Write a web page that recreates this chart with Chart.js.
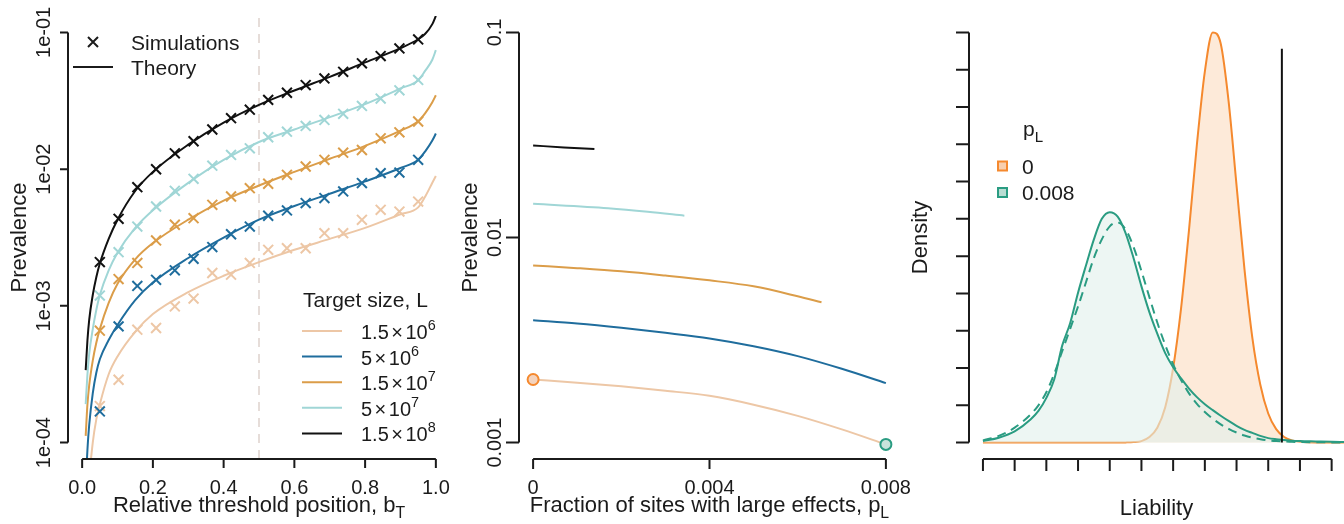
<!DOCTYPE html>
<html>
<head>
<meta charset="utf-8">
<script src="https://cdn.jsdelivr.net/npm/chart.js@4.4.1/dist/chart.umd.min.js"></script>
<style>
  html, body { margin: 0; padding: 0; background: #fff; }
  #wrap { position: relative; width: 1344px; height: 524px; }
  #wrap canvas { position: absolute; left: 0; top: 0; width: 1344px; height: 524px; }
</style>
</head>
<body>
<div id="wrap">
  <canvas id="pA" width="1344" height="524"></canvas>
  <canvas id="pB" width="1344" height="524"></canvas>
  <canvas id="pC" width="1344" height="524"></canvas>
</div>
<script>
// ── Panel A: prevalence vs relative threshold position ──────────────────────
const SIM_X = [0.05, 0.103, 0.156, 0.209, 0.262, 0.315, 0.368, 0.421, 0.474, 0.526, 0.579, 0.632, 0.685, 0.738, 0.791, 0.844, 0.897, 0.95];
const SIM_15e6 = [0.000185, 0.000288, 0.00067, 0.000689, 0.000991, 0.00113, 0.00174, 0.00169, 0.00206, 0.00257, 0.00264, 0.00264, 0.0034, 0.0034, 0.00426, 0.00504, 0.00489, 0.00579];
const SIM_5e6 = [0.000169, 0.000708, 0.0014, 0.00155, 0.00182, 0.00221, 0.00269, 0.00334, 0.0038, 0.00456, 0.00499, 0.00565, 0.00614, 0.00687, 0.00791, 0.00935, 0.00944, 0.0117];
const SIM_15e7 = [0.000658, 0.00157, 0.00206, 0.00301, 0.00392, 0.00438, 0.00548, 0.00631, 0.00726, 0.00782, 0.00908, 0.01045, 0.0117, 0.0132, 0.0138, 0.0168, 0.0186, 0.0223];
const SIM_5e7 = [0.00119, 0.00247, 0.0038, 0.00533, 0.00694, 0.00849, 0.0106, 0.0127, 0.0142, 0.0171, 0.0188, 0.0207, 0.0229, 0.0254, 0.029, 0.0328, 0.0377, 0.0449];
const SIM_15e8 = [0.00209, 0.00433, 0.00738, 0.00998, 0.01306, 0.016, 0.0195, 0.0236, 0.0272, 0.0321, 0.0362, 0.0412, 0.0461, 0.0515, 0.0594, 0.0671, 0.0764, 0.0889];

const THEORY_X = [0.01, 0.015, 0.02, 0.03, 0.04, 0.05, 0.075, 0.1, 0.15, 0.2, 0.3, 0.4, 0.5, 0.6, 0.7, 0.8, 0.9, 0.95, 0.97, 0.99, 1.0];
const TH_15e6 = [1.26e-5, 2.82e-5, 5.25e-5, 1.0e-4, 1.48e-4, 1.91e-4, 3.16e-4, 4.27e-4, 6.46e-4, 8.71e-4, 1.26e-3, 1.66e-3, 2.09e-3, 2.57e-3, 3.09e-3, 3.72e-3, 4.68e-3, 5.25e-3, 6.31e-3, 7.94e-3, 8.91e-3];
const TH_5e6 = [5.01e-5, 8.91e-5, 1.35e-4, 2.29e-4, 3.24e-4, 4.07e-4, 5.62e-4, 7.24e-4, 1.10e-3, 1.48e-3, 2.24e-3, 3.16e-3, 4.27e-3, 5.37e-3, 6.61e-3, 8.13e-3, 1.02e-2, 1.17e-2, 1.35e-2, 1.62e-2, 1.82e-2];
const TH_15e7 = [1.12e-4, 1.91e-4, 2.63e-4, 3.98e-4, 5.37e-4, 6.76e-4, 1.05e-3, 1.45e-3, 2.19e-3, 2.88e-3, 4.27e-3, 5.89e-3, 7.59e-3, 9.55e-3, 1.19e-2, 1.48e-2, 1.91e-2, 2.24e-2, 2.57e-2, 3.09e-2, 3.47e-2];
const TH_5e7 = [1.91e-4, 3.16e-4, 4.47e-4, 6.76e-4, 9.33e-4, 1.20e-3, 1.82e-3, 2.45e-3, 3.72e-3, 5.01e-3, 7.94e-3, 1.17e-2, 1.58e-2, 1.95e-2, 2.40e-2, 2.99e-2, 3.89e-2, 4.47e-2, 5.25e-2, 6.31e-2, 7.41e-2];
const TH_15e8 = [3.39e-4, 5.62e-4, 7.94e-4, 1.20e-3, 1.62e-3, 2.04e-3, 3.09e-3, 4.27e-3, 6.92e-3, 9.55e-3, 1.51e-2, 2.19e-2, 2.95e-2, 3.76e-2, 4.73e-2, 6.03e-2, 7.67e-2, 8.91e-2, 9.77e-2, 0.115, 0.132];

const THRESHOLD_B = 0.5;
const A_X_TICKS = [0, 0.2, 0.4, 0.6, 0.8, 1.0];
const A_X_LABELS = ['0.0', '0.2', '0.4', '0.6', '0.8', '1.0'];
const A_Y_TICKS = [1e-4, 1e-3, 1e-2, 1e-1];
const A_Y_LABELS = ['1e-04', '1e-03', '1e-02', '1e-01'];
const TARGET_MANT = ['1.5', '5', '1.5', '5', '1.5'];
const TARGET_EXP = ['6', '6', '7', '7', '8'];

// ── Panel B: prevalence vs fraction of large-effect sites ───────────────────
const PB_X_FULL = [0, 0.001, 0.002, 0.003, 0.004, 0.005, 0.006, 0.007, 0.008];
const PB_15e6 = [0.00203, 0.00196, 0.00188, 0.00179, 0.00169, 0.00153, 0.00135, 0.00116, 0.00098];
const PB_5e6 = [0.00395, 0.00381, 0.00363, 0.00343, 0.00322, 0.00295, 0.00264, 0.00229, 0.00195];
const PB_X_15e7 = [0, 0.001, 0.002, 0.003, 0.004, 0.005, 0.006, 0.00654];
const PB_15e7 = [0.00731, 0.00709, 0.00684, 0.00652, 0.00618, 0.00578, 0.00517, 0.00483];
const PB_X_5e7 = [0, 0.0017, 0.0026, 0.00343];
const PB_5e7 = [0.0146, 0.0139, 0.01336, 0.01277];
const PB_X_15e8 = [0, 0.0007, 0.00139];
const PB_15e8 = [0.0281, 0.0275, 0.027];
const DOT_X = [0, 0.008];
const DOT_Y = [0.00203, 0.00098];
const B_X_TICKS = [0, 0.004, 0.008];
const B_X_LABELS = ['0', '0.004', '0.008'];
const B_Y_TICKS = [0.001, 0.01, 0.1];
const B_Y_LABELS = ['0.001', '0.01', '0.1'];

// ── Panel C: liability densities (arbitrary units) ──────────────────────────
const LIAB_X = [0, 0.5, 1, 1.5, 1.75, 2, 2.25, 2.5, 2.75, 3, 3.25, 3.5, 3.75, 4, 4.25, 4.5, 4.75, 5, 5.25, 5.5, 5.75, 6, 6.25, 6.5, 6.75, 7, 7.25, 7.5, 7.75, 8, 8.25, 8.5, 8.75, 9, 9.25, 9.5, 9.75, 10, 10.5, 11, 11.4];
const DENS_P0 = [0, 0, 0, 0, 0, 0, 0, 0, 0, 0, 0, 0, 0, 0, 0, 0.005, 0.015, 0.04, 0.15, 0.4, 0.95, 2.0, 3.6, 5.7, 8.0, 9.95, 11.0, 10.7, 9.15, 6.9, 4.65, 2.8, 1.55, 0.78, 0.36, 0.15, 0.06, 0.02, 0, 0, 0];
const DENS_P008 = [0.04, 0.13, 0.3, 0.62, 0.85, 1.2, 1.7, 2.6, 3.2, 4.02, 4.75, 5.45, 6.0, 6.18, 6.06, 5.62, 4.95, 4.19, 3.5, 2.92, 2.4, 2.02, 1.72, 1.45, 1.22, 1.03, 0.87, 0.72, 0.58, 0.45, 0.34, 0.26, 0.18, 0.12, 0.09, 0.07, 0.05, 0.04, 0.03, 0.02, 0.015];
const DENS_P008_SIM = [0.06, 0.18, 0.4, 0.75, 1.0, 1.35, 1.85, 2.45, 3.05, 3.65, 4.3, 4.95, 5.45, 5.8, 5.9, 5.72, 5.25, 4.6, 3.9, 3.22, 2.62, 2.1, 1.68, 1.32, 1.04, 0.82, 0.64, 0.49, 0.37, 0.27, 0.19, 0.13, 0.09, 0.06, 0.04, 0.03, 0.02, 0.015, 0.01, 0.005, 0.005];
const LIAB_THRESHOLD = 9.43;
const THRESHOLD_TOP = 10.56;
const C_TICKS = [0, 1, 2, 3, 4, 5, 6, 7, 8, 9, 10, 11];

// ── Styling ─────────────────────────────────────────────────────────────────
const FONT = '"Liberation Sans", Arial, Helvetica, sans-serif';
const INK = '#1b1b1b';
const COL_15e6 = '#EDC7A6';
const COL_5e6 = '#1F6D9D';
const COL_15e7 = '#DB9D49';
const COL_5e7 = '#A0D6D6';
const COL_15e8 = '#111111';
const COL_ORANGE = '#F5892E';
const COL_TEAL = '#2A9C82';

const pts = (xs, ys) => xs.map((x, i) => ({ x, y: ys[i] }));

// rich text: segments [text, 'sub'|'sup'|null]; a number is a gap in px
function richText(ctx, segs, x, y, size, align) {
  const parts = segs.map(([t, kind]) => {
    if (typeof t === 'number') return { gap: true, w: t };
    const s = kind ? size * 0.72 : size;
    ctx.font = `${s}px ${FONT}`;
    const dy = kind === 'sub' ? size * 0.28 : kind === 'sup' ? -size * 0.45 : 0;
    return { t, s, dy, w: ctx.measureText(t).width };
  });
  const total = parts.reduce((a, p) => a + p.w, 0);
  let cx = align === 'center' ? x - total / 2 : align === 'right' ? x - total : x;
  ctx.textAlign = 'left';
  ctx.textBaseline = 'alphabetic';
  for (const p of parts) {
    if (!p.gap) {
      ctx.font = `${p.s}px ${FONT}`;
      ctx.fillText(p.t, cx, y + p.dy);
    }
    cx += p.w;
  }
}

// R-style detached axes, drawn from the chart's own scales
function drawAxes(chart, a) {
  const { ctx, chartArea: ca, scales: { x, y } } = chart;
  ctx.save();
  ctx.strokeStyle = INK;
  ctx.fillStyle = INK;
  ctx.lineWidth = 2;
  ctx.beginPath();
  const yp = a.yTicks.map(v => y.getPixelForValue(v));
  ctx.moveTo(ca.left, yp[0]);
  ctx.lineTo(ca.left, yp[yp.length - 1]);
  yp.forEach(p => { ctx.moveTo(ca.left - a.yTickLen, p); ctx.lineTo(ca.left, p); });
  const xp = a.xTicks.map(v => x.getPixelForValue(v));
  ctx.moveTo(xp[0], ca.bottom);
  ctx.lineTo(xp[xp.length - 1], ca.bottom);
  xp.forEach(p => { ctx.moveTo(p, ca.bottom); ctx.lineTo(p, ca.bottom + a.xTickLen); });
  ctx.stroke();

  ctx.font = `20px ${FONT}`;
  ctx.textAlign = 'center';
  ctx.textBaseline = 'alphabetic';
  if (a.xLabels) a.xLabels.forEach((t, i) => ctx.fillText(t, xp[i], 494));
  if (a.yLabels) a.yLabels.forEach((t, i) => {
    ctx.save();
    ctx.translate(ca.left - 18, yp[i]);
    ctx.rotate(-Math.PI / 2);
    ctx.fillText(t, 0, 0);
    ctx.restore();
  });
  richText(ctx, a.xTitle, (ca.left + ca.right) / 2, a.xTitleY, 22, 'center');
  ctx.save();
  ctx.translate(ca.left - 42, (ca.top + ca.bottom) / 2);
  ctx.rotate(-Math.PI / 2);
  richText(ctx, a.yTitle, 0, 0, 22, 'center');
  ctx.restore();
  ctx.restore();
}

const baseOptions = (xMin, xMax, yType, yMin, yMax, pad) => ({
  responsive: false,
  animation: false,
  events: [],
  layout: { padding: pad },
  plugins: { legend: { display: false }, tooltip: { enabled: false } },
  scales: {
    x: { type: 'linear', min: xMin, max: xMax, bounds: 'data', display: false },
    y: { type: yType, min: yMin, max: yMax, bounds: 'data', display: false },
  },
});

// ── Chart A ─────────────────────────────────────────────────────────────────
const A_YMIN = Math.pow(10, -4.12), A_YMAX = Math.pow(10, -0.88);
const theoryDs = (ys, color, order) => ({
  type: 'line', data: pts(THEORY_X, ys), borderColor: color, borderWidth: 2,
  pointRadius: 0, cubicInterpolationMode: 'monotone', fill: false, order,
});
const simDs = (ys, color, order) => ({
  type: 'line', data: pts(SIM_X, ys), showLine: false, borderColor: color,
  pointStyle: 'crossRot', pointRadius: 7, pointBorderWidth: 2,
  pointBorderColor: color, order,
});

new Chart(document.getElementById('pA'), {
  type: 'line',
  data: {
    datasets: [
      { data: [{ x: THRESHOLD_B, y: A_YMIN }, { x: THRESHOLD_B, y: A_YMAX }], borderColor: '#E6DDD9',
        borderWidth: 2, borderDash: [9, 7], pointRadius: 0, order: 20 },
      theoryDs(TH_15e6, COL_15e6, 11), simDs(SIM_15e6, COL_15e6, 10),
      theoryDs(TH_5e6, COL_5e6, 9), simDs(SIM_5e6, COL_5e6, 8),
      theoryDs(TH_15e7, COL_15e7, 7), simDs(SIM_15e7, COL_15e7, 6),
      theoryDs(TH_5e7, COL_5e7, 5), simDs(SIM_5e7, COL_5e7, 4),
      theoryDs(TH_15e8, COL_15e8, 3), simDs(SIM_15e8, COL_15e8, 2),
    ],
  },
  options: baseOptions(-0.04, 1.04, 'logarithmic', A_YMIN, A_YMAX, { left: 68, right: 894, top: 16, bottom: 65 }),
  plugins: [{
    id: 'axesA',
    afterDraw(chart) {
      drawAxes(chart, {
        xTicks: A_X_TICKS, xLabels: A_X_LABELS, yTicks: A_Y_TICKS, yLabels: A_Y_LABELS,
        xTickLen: 9, yTickLen: 8, xTitleY: 512,
        xTitle: [['Relative threshold position, b', null], ['T', 'sub']],
        yTitle: [['Prevalence', null]],
      });
      const ctx = chart.ctx;
      ctx.save();
      ctx.fillStyle = INK; ctx.strokeStyle = INK; ctx.lineWidth = 2;
      // top-left key
      ctx.beginPath();
      ctx.moveTo(88, 37); ctx.lineTo(98, 47); ctx.moveTo(98, 37); ctx.lineTo(88, 47);
      ctx.moveTo(73, 67); ctx.lineTo(113, 67);
      ctx.stroke();
      richText(ctx, [['Simulations', null]], 131, 50, 21, 'left');
      richText(ctx, [['Theory', null]], 131, 75, 21, 'left');
      // target-size key
      richText(ctx, [['Target size, L', null]], 303, 307, 21, 'left');
      const cols = [COL_15e6, COL_5e6, COL_15e7, COL_5e7, COL_15e8];
      cols.forEach((c, i) => {
        const yy = 331 + i * 25.6;
        ctx.strokeStyle = c; ctx.lineWidth = 2;
        ctx.beginPath(); ctx.moveTo(302, yy); ctx.lineTo(342, yy); ctx.stroke();
        ctx.fillStyle = INK;
        richText(ctx, [[TARGET_MANT[i], null], [2.5], ['\u00d7', null], [2.5], ['10', null], [TARGET_EXP[i], 'sup']],
          361, yy + 8, 20, 'left');
      });
      ctx.restore();
    },
  }],
});

// ── Chart B ─────────────────────────────────────────────────────────────────
const B_YMIN = Math.pow(10, -3.08), B_YMAX = Math.pow(10, -0.92);
const lineB = (xs, ys, color) => ({
  data: pts(xs, ys), borderColor: color, borderWidth: 2, pointRadius: 0,
  cubicInterpolationMode: 'monotone', fill: false,
});
new Chart(document.getElementById('pB'), {
  type: 'line',
  data: {
    datasets: [
      { data: [{ x: DOT_X[0], y: DOT_Y[0] }], showLine: false, pointRadius: 5.5, pointBorderWidth: 2,
        pointBorderColor: COL_ORANGE, pointBackgroundColor: '#F4D3BD', order: 1 },
      { data: [{ x: DOT_X[1], y: DOT_Y[1] }], showLine: false, pointRadius: 5.5, pointBorderWidth: 2,
        pointBorderColor: COL_TEAL, pointBackgroundColor: '#C9E3DB', order: 1 },
      { ...lineB(PB_X_FULL, PB_15e6, COL_15e6), order: 6 },
      { ...lineB(PB_X_FULL, PB_5e6, COL_5e6), order: 5 },
      { ...lineB(PB_X_15e7, PB_15e7, COL_15e7), order: 4 },
      { ...lineB(PB_X_5e7, PB_5e7, COL_5e7), order: 3 },
      { ...lineB(PB_X_15e8, PB_15e8, COL_15e8), order: 2 },
    ],
  },
  options: baseOptions(-0.00032, 0.00832, 'logarithmic', B_YMIN, B_YMAX, { left: 519, right: 444, top: 16, bottom: 65 }),
  plugins: [{
    id: 'axesB',
    afterDraw(chart) {
      drawAxes(chart, {
        xTicks: B_X_TICKS, xLabels: B_X_LABELS, yTicks: B_Y_TICKS, yLabels: B_Y_LABELS,
        xTickLen: 10, yTickLen: 13, xTitleY: 512,
        xTitle: [['Fraction of sites with large effects, p', null], ['L', 'sub']],
        yTitle: [['Prevalence', null]],
      });
    },
  }],
});

// ── Chart C ─────────────────────────────────────────────────────────────────
new Chart(document.getElementById('pC'), {
  type: 'line',
  data: {
    datasets: [
      { data: pts(LIAB_X, DENS_P0), borderColor: COL_ORANGE, borderWidth: 2, pointRadius: 0,
        cubicInterpolationMode: 'monotone', fill: 'origin', backgroundColor: 'rgba(245,137,46,0.18)', order: 5 },
      { data: pts(LIAB_X, DENS_P008), borderColor: COL_TEAL, borderWidth: 2, pointRadius: 0,
        cubicInterpolationMode: 'monotone', fill: 'origin', backgroundColor: 'rgba(226,240,236,0.62)', order: 4 },
      { data: pts(LIAB_X, DENS_P008_SIM), borderColor: COL_TEAL, borderWidth: 2, borderDash: [9, 6], pointRadius: 0,
        cubicInterpolationMode: 'monotone', fill: false, order: 3 },
      { data: [{ x: LIAB_THRESHOLD, y: 0 }, { x: LIAB_THRESHOLD, y: THRESHOLD_TOP }], borderColor: '#111',
        borderWidth: 2, pointRadius: 0, fill: false, order: 1 },
    ],
  },
  options: baseOptions(-0.44, 11.39, 'linear', -0.44, 11.44, { left: 969, right: 0, top: 16, bottom: 65 }),
  plugins: [{
    id: 'axesC',
    afterDraw(chart) {
      drawAxes(chart, {
        xTicks: C_TICKS, yTicks: C_TICKS, xTickLen: 12, yTickLen: 13, xTitleY: 515,
        xTitle: [['Liability', null]],
        yTitle: [['Density', null]],
      });
      const ctx = chart.ctx;
      ctx.save();
      ctx.fillStyle = INK;
      richText(ctx, [['p', null], ['L', 'sub']], 1023, 136, 21, 'left');
      [[COL_ORANGE, '#F8CFAE', '0', 166], [COL_TEAL, '#B9DDD3', '0.008', 192.5]].forEach(([sc, fc, t, yy]) => {
        ctx.fillStyle = fc; ctx.strokeStyle = sc; ctx.lineWidth = 2;
        ctx.fillRect(998, yy - 4.5, 9, 9);
        ctx.strokeRect(998, yy - 4.5, 9, 9);
        ctx.fillStyle = INK;
        richText(ctx, [[t, null]], 1022, yy + 7.5, 21, 'left');
      });
      ctx.restore();
    },
  }],
});
</script>
</body>
</html>
